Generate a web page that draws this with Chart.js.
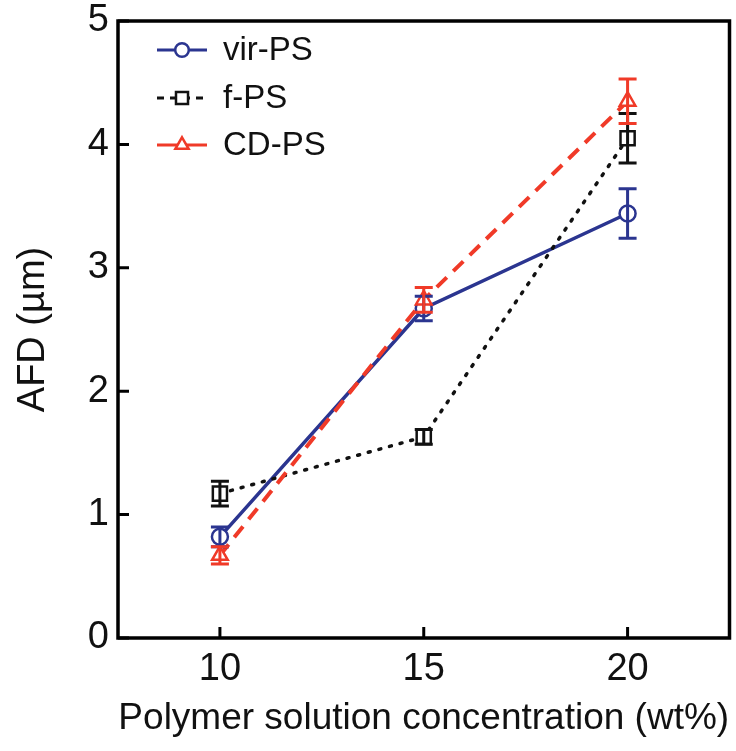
<!DOCTYPE html>
<html>
<head>
<meta charset="utf-8">
<script src="https://cdn.jsdelivr.net/npm/chart.js@4"></script>
<style>
  html, body { margin: 0; padding: 0; background: #ffffff; overflow: hidden; }
  #wrap { width: 742px; height: 751px; position: relative; }
  #chart { display: block; }
</style>
</head>
<body>
<div id="wrap"><canvas id="chart"></canvas></div>
<script>
// Polymer solution concentration (wt%)
const concentrations = [10, 15, 20];
const xTickValues = [10, 15, 20];
const yTickValues = [0, 1, 2, 3, 4, 5];

// Average fibre diameter (µm) and its error for each polymer
const virPS = [0.82, 2.67, 3.44];
const virPSErr = [0.08, 0.10, 0.20];
const fPS = [1.17, 1.63, 4.05];
const fPSErr = [0.10, 0.06, 0.20];
const cdPS = [0.67, 2.74, 4.35];
const cdPSErr = [0.07, 0.10, 0.18];

const seriesNames = ['vir-PS', 'f-PS', 'CD-PS'];

const BLUE = '#2b3590';
const BLACK = '#111111';
const RED = '#f03a28';
const FONT = "'Liberation Sans', Arial, Helvetica, sans-serif";

const toPoints = (vals) => concentrations.map((x, i) => ({ x, y: vals[i] }));

const series = [
  { label: seriesNames[0], vals: virPS, err: virPSErr, color: BLUE, dash: [], style: 'circle', radius: 8 },
  { label: seriesNames[1], vals: fPS, err: fPSErr, color: BLACK, dash: [2, 9], style: 'rect', radius: 10 },
  { label: seriesNames[2], vals: cdPS, err: cdPSErr, color: RED, dash: [14, 9], style: 'triangle', radius: 9 }
];

// Error bars with caps, placed through the chart scales
const errorBars = {
  id: 'errorBars',
  afterDatasetsDraw(chart) {
    const { ctx, scales: { x, y } } = chart;
    ctx.save();
    series.forEach((s) => {
      ctx.strokeStyle = s.color;
      ctx.lineWidth = 3;
      ctx.setLineDash([]);
      concentrations.forEach((c, i) => {
        const px = x.getPixelForValue(c);
        const top = y.getPixelForValue(s.vals[i] + s.err[i]);
        const bot = y.getPixelForValue(s.vals[i] - s.err[i]);
        ctx.beginPath();
        ctx.moveTo(px, top); ctx.lineTo(px, bot);
        ctx.moveTo(px - 9, top); ctx.lineTo(px + 9, top);
        ctx.moveTo(px - 9, bot); ctx.lineTo(px + 9, bot);
        ctx.stroke();
      });
    });
    ctx.restore();
  }
};

// Frame with inward ticks
const frame = {
  id: 'frame',
  afterDraw(chart) {
    const { ctx, chartArea: a, scales: { x, y } } = chart;
    ctx.save();
    ctx.strokeStyle = '#000';
    ctx.lineWidth = 3.5;
    ctx.setLineDash([]);
    ctx.strokeRect(a.left, a.top, a.right - a.left, a.bottom - a.top);
    ctx.lineWidth = 3;
    ctx.beginPath();
    xTickValues.forEach((v) => {
      const px = x.getPixelForValue(v);
      ctx.moveTo(px, a.bottom); ctx.lineTo(px, a.bottom - 11);
    });
    yTickValues.forEach((v) => {
      const py = y.getPixelForValue(v);
      ctx.moveTo(a.left, py); ctx.lineTo(a.left + 11, py);
    });
    ctx.stroke();
    ctx.restore();
  }
};

// Legend: line sample with marker, then series name
const lineLegend = {
  id: 'lineLegend',
  afterDraw(chart) {
    const { ctx } = chart;
    const rows = [50, 98, 145];
    ctx.save();
    series.forEach((s, i) => {
      const yy = rows[i];
      ctx.strokeStyle = s.color;
      ctx.lineWidth = 3;
      ctx.setLineDash(i === 1 ? [7, 6] : []);
      ctx.beginPath();
      ctx.moveTo(157, yy); ctx.lineTo(207, yy);
      ctx.stroke();
      ctx.setLineDash([]);
      ctx.fillStyle = '#ffffff';
      ctx.lineWidth = 2.5;
      Chart.helpers.drawPoint(ctx, { pointStyle: s.style, radius: s.radius * 0.85, borderWidth: 2.5 }, 182, yy);
      ctx.fillStyle = '#111';
      ctx.font = '33px ' + FONT;
      ctx.textBaseline = 'middle';
      ctx.textAlign = 'left';
      ctx.fillText(s.label, 223, yy + 1);
    });
    ctx.restore();
  }
};

const datasets = series.map((s, i) => ({
  label: s.label,
  data: toPoints(s.vals),
  borderColor: s.color,
  backgroundColor: '#ffffff',
  borderWidth: i === 2 ? 4 : 3.5,
  borderDash: s.dash,
  borderCapStyle: i === 1 ? 'round' : 'butt',
  pointStyle: s.style,
  pointRadius: s.radius,
  pointBorderWidth: 2.5,
  pointBorderColor: s.color,
  pointBackgroundColor: '#ffffff',
  tension: 0,
  order: 2 - i
}));

new Chart(document.getElementById('chart'), {
  type: 'line',
  data: { datasets },
  options: {
    responsive: true,
    maintainAspectRatio: false,
    animation: false,
    layout: { padding: { top: 21, right: 0, left: 0, bottom: 0 } },
    plugins: { legend: { display: false }, tooltip: { enabled: false } },
    scales: {
      x: {
        type: 'linear',
        min: 7.5,
        max: 22.5,
        afterBuildTicks(scale) { scale.ticks = xTickValues.map((v) => ({ value: v })); },
        afterFit(scale) {
          scale.height = 113;
          scale.paddingLeft = 0;
          scale.paddingRight = 0;
        },
        grid: { display: false, drawTicks: false },
        border: { display: false },
        ticks: { color: '#111', padding: 9, font: { family: FONT, size: 38 } },
        title: {
          display: true,
          text: 'Polymer solution concentration (wt%)',
          color: '#111',
          font: { family: FONT, size: 37 },
          padding: { top: 0, bottom: 10 }
        }
      },
      y: {
        type: 'linear',
        min: 0,
        max: 5,
        afterBuildTicks(scale) { scale.ticks = yTickValues.map((v) => ({ value: v })); },
        afterFit(scale) {
          scale.width = 118;
          scale.paddingTop = 0;
          scale.paddingBottom = 0;
        },
        grid: { display: false, drawTicks: false },
        border: { display: false },
        ticks: { color: '#111', padding: 9, font: { family: FONT, size: 38 } },
        title: {
          display: true,
          text: 'AFD (µm)',
          color: '#111',
          font: { family: FONT, size: 38 },
          padding: { top: 11, bottom: 0 }
        }
      }
    }
  },
  plugins: [errorBars, frame, lineLegend]
});
</script>
</body>
</html>
